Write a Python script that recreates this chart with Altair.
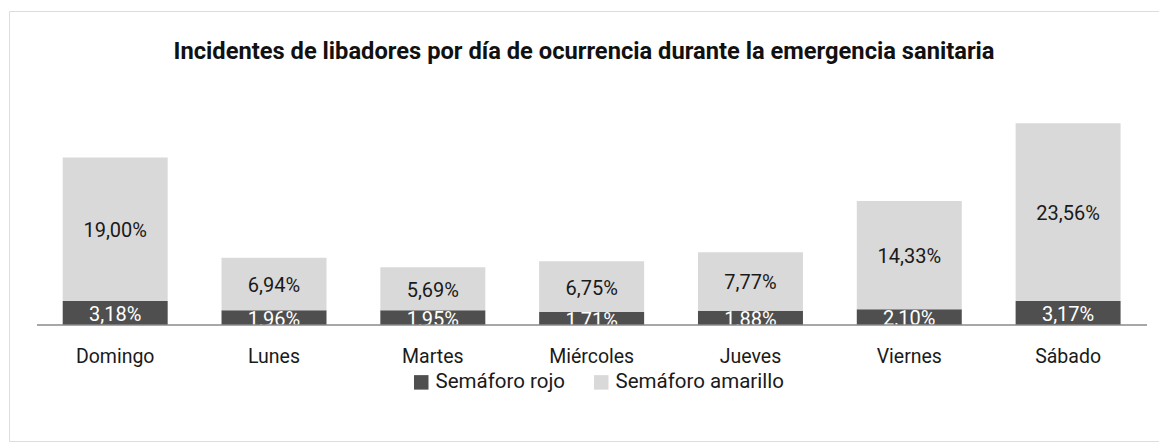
import altair as alt
import pandas as pd

dias = ["Domingo", "Lunes", "Martes", "Miércoles", "Jueves", "Viernes", "Sábado"]
rojo = [3.18, 1.96, 1.95, 1.71, 1.88, 2.10, 3.17]
amarillo = [19.00, 6.94, 5.69, 6.75, 7.77, 14.33, 23.56]
series = ["Semáforo rojo", "Semáforo amarillo"]
colores = ["#4f4f4f", "#d9d9d9"]
titulo = "Incidentes de libadores por día de ocurrencia durante la emergencia sanitaria"


def fmt(v):
    return f"{v:.2f}".replace(".", ",") + "%"


rows = []
for d, r, a in zip(dias, rojo, amarillo):
    rows.append(dict(dia=d, serie=series[0], v0=0.0, v1=r, mid=r / 2, etiqueta=fmt(r)))
    rows.append(dict(dia=d, serie=series[1], v0=r, v1=r + a, mid=r + a / 2, etiqueta=fmt(a)))
df = pd.DataFrame(rows)

W, H = 1150, 430
FONT = "Roboto"

xenc = alt.X(
    "dia:N",
    sort=dias,
    scale=alt.Scale(paddingInner=0.339, paddingOuter=0.29, align=0.583),
    axis=alt.Axis(
        title=None, orient="bottom", offset=-116, labelPadding=22, domain=False,
        ticks=False, labelAngle=0, labelFont=FONT, labelFontSize=19.5,
        labelColor="#1a1a1a",
    ),
)
yscale = alt.Scale(domain=[-15.36, 41.59], nice=False, zero=False)

base = alt.Chart(df)

bars = base.mark_bar().encode(
    x=xenc,
    y=alt.Y("v0:Q", scale=yscale, axis=None),
    y2="v1:Q",
    color=alt.Color(
        "serie:N",
        scale=alt.Scale(domain=series, range=colores),
        legend=alt.Legend(
            orient="none", legendX=402, legendY=361, direction="horizontal",
            title=None, symbolType="square", symbolSize=210, symbolStrokeWidth=0,
            labelFont=FONT, labelFontSize=20.5, labelColor="#1a1a1a",
            labelLimit=400, columnPadding=25, labelOffset=4,
        ),
    ),
)

txt_rojo = base.transform_filter(alt.datum.serie == series[0]).mark_text(
    font=FONT, fontSize=20, color="white", baseline="middle", dy=2
).encode(x=alt.X("dia:N", sort=dias), y=alt.Y("mid:Q", scale=yscale), text="etiqueta:N")

txt_amarillo = base.transform_filter(alt.datum.serie == series[1]).mark_text(
    font=FONT, fontSize=20, color="#1a1a1a", baseline="middle", dy=2
).encode(x=alt.X("dia:N", sort=dias), y=alt.Y("mid:Q", scale=yscale), text="etiqueta:N")

baseline = alt.Chart(pd.DataFrame({"y": [0]})).mark_rule(
    color="#8a8a8a", strokeWidth=1.5
).encode(y=alt.Y("y:Q", scale=yscale), x=alt.value(28), x2=alt.value(1138))

chart = alt.layer(bars, txt_rojo, txt_amarillo, baseline).properties(
    width=W, height=H,
    title=alt.TitleParams(
        titulo, font=FONT, fontSize=23.7, fontWeight="bold", color="#111111",
        anchor="middle", offset=-53,
    ),
    autosize=alt.AutoSizeParams(type="none"),
    padding={"left": 1, "top": 3, "right": 0, "bottom": 1},
).configure_view(stroke="#555555", strokeWidth=2).configure(background="white")

chart.save("out.html", embed_options={"renderer": "svg", "actions": False})
